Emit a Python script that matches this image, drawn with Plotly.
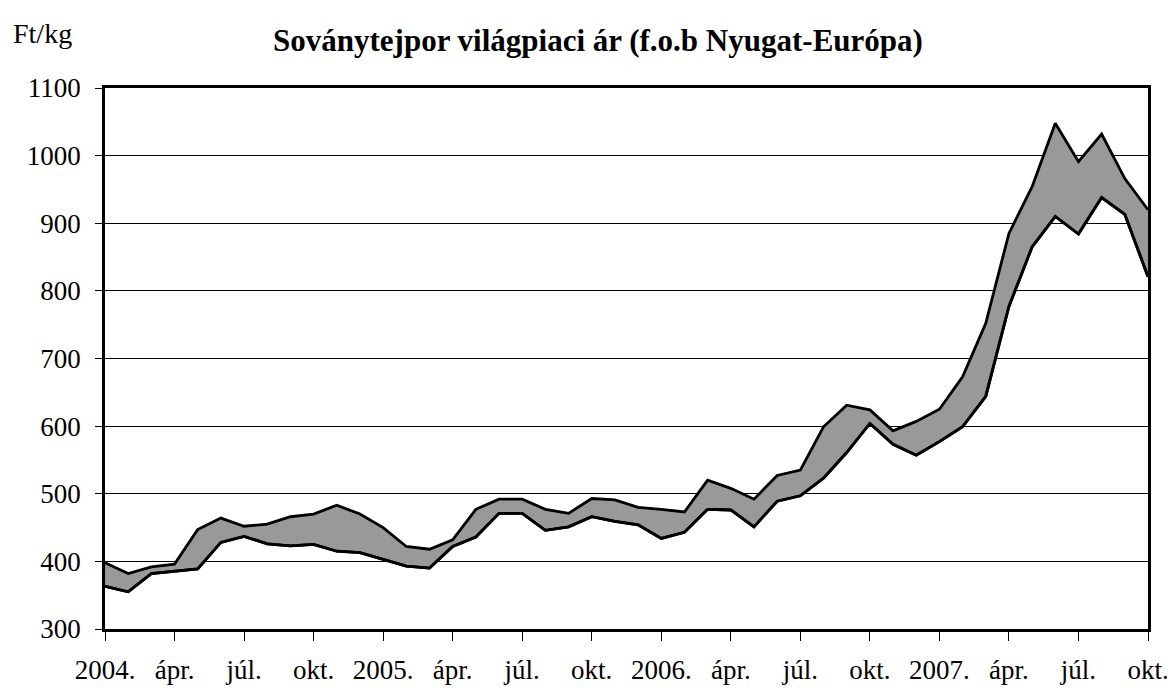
import plotly.graph_objects as go

# monthly prices, 2004 Jan .. 2007 Oct (Ft/kg)
month_idx = list(range(46))
upper = [398, 382, 392, 396, 447, 464, 452, 455, 466, 470, 483, 470,
         450, 422, 418, 432, 477, 492, 492, 477, 471, 493, 491, 480,
         477, 473, 520, 508, 492, 527, 535, 599, 631, 624, 593, 607,
         625, 673, 752, 885, 954, 1048, 991, 1032, 966, 920]
lower = [363, 355, 382, 386, 389, 428, 437, 426, 423, 425, 415, 413,
         403, 393, 390, 422, 436, 471, 471, 446, 451, 466, 459, 454,
         434, 443, 477, 476, 451, 489, 497, 523, 561, 604, 573, 557,
         577, 599, 644, 777, 865, 910, 884, 938, 913, 821]
tick_pos = list(range(0, 46, 3))
tick_text = ["2004.", "ápr.", "júl.", "okt.", "2005.", "ápr.", "júl.", "okt.",
             "2006.", "ápr.", "júl.", "okt.", "2007.", "ápr.", "júl.", "okt."]

font_main = "Liberation Serif, Times New Roman, serif"

fig = go.Figure()
fig.add_trace(go.Scatter(x=month_idx, y=lower, mode="lines", line=dict(color="black", width=2.8), hoverinfo="skip", showlegend=False))
fig.add_trace(go.Scatter(x=month_idx, y=upper, mode="lines", fill="tonexty", fillcolor="#999999", line=dict(color="black", width=2.8), hoverinfo="skip", showlegend=False))
fig.add_trace(go.Scatter(x=month_idx, y=lower, mode="lines", line=dict(color="black", width=2.8), hoverinfo="skip", showlegend=False))

# page body has an 8px margin, so the figure is shifted back by that much
fig.update_layout(
    width=1167, height=683, plot_bgcolor="white", paper_bgcolor="white",
    margin=dict(l=97, r=27, t=80, b=62, autoexpand=False),
    font=dict(family=font_main, size=27, color="black"),
    xaxis=dict(range=[0, 45], tickmode="array", tickvals=tick_pos, ticktext=tick_text, showgrid=False, zeroline=False, automargin=False,
               showline=True, mirror=True, linecolor="black", linewidth=2.5, ticks="outside", ticklen=9, tickwidth=1, tickcolor="black",
               ticklabelstandoff=6),
    yaxis=dict(range=[300, 1100], tickmode="linear", tick0=300, dtick=100, showgrid=True, gridcolor="black", gridwidth=1, zeroline=False,
               automargin=False, showline=True, mirror=True, linecolor="black", linewidth=2.5, ticks="outside", ticklen=7, tickwidth=1,
               tickcolor="black", ticklabelstandoff=9),
    annotations=[
        dict(text="<b>Soványtejpor világpiaci ár (f.o.b Nyugat-Európa)</b>", xref="paper", yref="paper", x=0.473, y=1.0, yshift=48,
             xanchor="center", yanchor="middle", showarrow=False, font=dict(size=31)),
        dict(text="Ft/kg", xref="paper", yref="paper", x=0, y=1.0, xshift=-94, yshift=55, xanchor="left", yanchor="middle",
             showarrow=False, font=dict(size=28)),
    ],
)

fig.write_html("out.html")
